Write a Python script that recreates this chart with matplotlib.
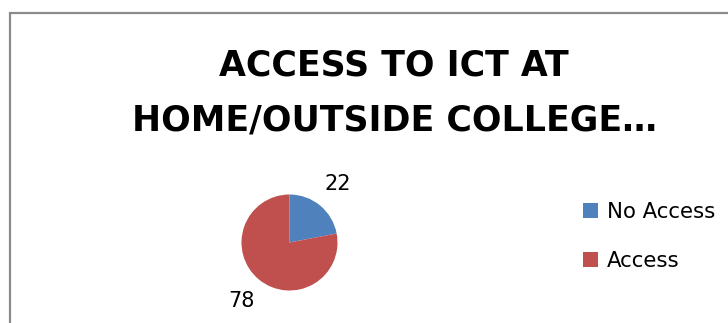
import matplotlib
matplotlib.use("Agg")
import matplotlib.pyplot as plt
from matplotlib.patches import Patch, Rectangle

categories = ["No Access", "Access"]
values = [22, 78]
colors = ["#4F81BD", "#C0504D"]
title_lines = ["ACCESS TO ICT AT", "HOME/OUTSIDE COLLEGE…"]

W, H = 728, 323
fig = plt.figure(figsize=(W / 100, H / 100), dpi=100)
fig.patch.set_facecolor("white")

# chart border (runs off the right and bottom edges)
fig.patches.append(Rectangle((10 / W, -0.2), 1.2, 1.2 - 13 / H,
                             transform=fig.transFigure, fill=False,
                             edgecolor="#8a8a8a", linewidth=1.6, clip_on=False))

# title, two lines
fig.text(394 / W, 1 - 75 / H, title_lines[0], ha="center", va="baseline",
         fontsize=25, fontweight="bold", family="DejaVu Sans")
fig.text(394 / W, 1 - 130 / H, title_lines[1], ha="center", va="baseline",
         fontsize=25, fontweight="bold", family="DejaVu Sans")

# pie: centre (289.5, 242.5) px, radius 48 px; pie limits are +/-1.25
cx, cy, r = 289.5, 242.5, 48
side = 2.5 * r
ax = fig.add_axes([(cx - side / 2) / W, (H - cy - side / 2) / H, side / W, side / H])
wedges, texts = ax.pie(values, labels=[str(v) for v in values], colors=colors,
                       startangle=90, counterclock=False, labeldistance=1.58,
                       wedgeprops=dict(linewidth=0),
                       textprops=dict(fontsize=15, color="black"))
for t in texts:
    t.set_ha("center")
    t.set_va("center")
ax.set_aspect("equal")

handles = [Patch(facecolor=c, edgecolor="none") for c in colors]
fig.legend(handles, categories, loc="upper left",
           bbox_to_anchor=(583 / W, 1 - 202 / H), frameon=False,
           fontsize=15.3, handlelength=0.72, handleheight=0.72,
           handletextpad=0.4, labelspacing=1.38, borderpad=0, borderaxespad=0)

fig.savefig("out.png", dpi=100)
